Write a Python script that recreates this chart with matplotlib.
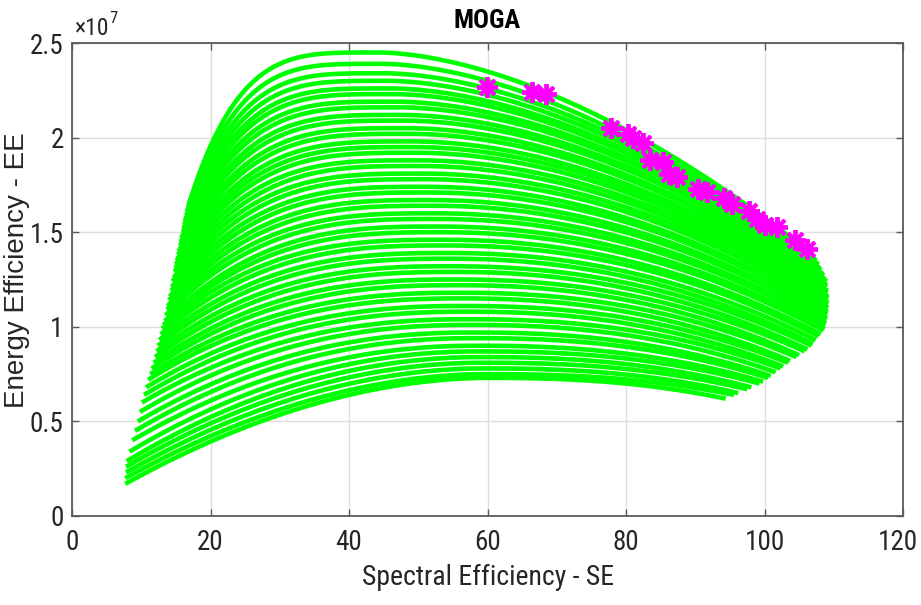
import numpy as np
import matplotlib
matplotlib.use("Agg")
import matplotlib.pyplot as plt
from matplotlib import font_manager
from matplotlib.transforms import ScaledTranslation

# ---------------- data ----------------
# key points of each green EE-SE trade-off curve (EE in units of 1e7)
start_se = [7.7, 7.7, 7.8, 7.8, 7.9, 8.3,
            8.7, 9.1, 9.5, 9.8, 10.1,
            10.4, 10.7, 11.0, 11.3, 11.5,
            11.8, 12.0, 12.2, 12.4, 12.6,
            12.8, 13.0, 13.2, 13.4, 13.5,
            13.7, 13.8, 14.0, 14.1, 14.3,
            14.4, 14.5, 14.7, 14.8, 14.9,
            15.0, 15.1, 15.3, 15.4, 15.6,
            15.7, 15.8, 16.0, 16.1, 16.2,
            16.3, 16.5, 16.6, 16.8]
start_ee = [0.17, 0.20, 0.23, 0.26, 0.29, 0.34,
            0.40, 0.45, 0.50, 0.55, 0.60,
            0.64, 0.68, 0.72, 0.75, 0.78,
            0.81, 0.84, 0.87, 0.90, 0.93,
            0.96, 0.99, 1.01, 1.03, 1.06,
            1.09, 1.11, 1.14, 1.16, 1.19,
            1.21, 1.24, 1.26, 1.29, 1.31,
            1.33, 1.35, 1.38, 1.40, 1.43,
            1.45, 1.47, 1.50, 1.52, 1.54,
            1.56, 1.59, 1.61, 1.64]
peak_se = [60.0, 59.8, 59.5, 59.3, 59.0, 58.7, 58.4, 58.1, 57.8, 57.5,
           57.2, 56.9, 56.6, 56.3, 56.0, 55.7, 55.4, 55.1, 54.8, 54.5,
           54.2, 53.9, 53.6, 53.3, 53.0, 52.7, 52.4, 52.1, 51.8, 51.5,
           51.2, 50.9, 50.6, 50.3, 50.0, 49.7, 49.4, 49.1, 48.8, 48.4,
           48.0, 47.6, 47.2, 46.8, 46.4, 46.0, 45.6, 45.2, 44.8, 44.4]
peak_ee = [0.73, 0.75, 0.78, 0.81, 0.84, 0.87, 0.90, 0.94, 0.97, 1.01,
           1.04, 1.08, 1.11, 1.15, 1.18, 1.22, 1.25, 1.29, 1.32, 1.36,
           1.39, 1.43, 1.46, 1.50, 1.53, 1.57, 1.60, 1.64, 1.67, 1.71,
           1.74, 1.78, 1.81, 1.85, 1.88, 1.92, 1.95, 1.98, 2.02, 2.05,
           2.09, 2.12, 2.16, 2.19, 2.23, 2.26, 2.30, 2.34, 2.39, 2.45]
end_se = [94.4, 95.6, 96.2, 97.5, 98.1, 99.3, 99.8, 100.5, 100.9, 101.6,
          102.3, 102.7, 103.4, 103.7, 104.6, 105.0, 105.8, 106.2, 106.8, 107.0,
          107.4, 107.8, 108.1, 108.5, 108.7, 108.8, 108.9, 109.0, 109.0, 109.1,
          109.1, 109.2, 109.2, 109.2, 109.2, 109.2, 109.1, 109.1, 109.0, 109.0,
          109.0, 108.8, 108.6, 108.4, 108.2, 108.0, 107.8, 107.5, 107.2, 107.0]
end_ee = [0.62, 0.64, 0.65, 0.67, 0.68, 0.70, 0.71, 0.73, 0.74, 0.76,
          0.78, 0.79, 0.81, 0.82, 0.84, 0.85, 0.87, 0.88, 0.90, 0.91,
          0.93, 0.95, 0.96, 0.98, 0.99, 1.01, 1.02, 1.04, 1.05, 1.07,
          1.08, 1.10, 1.12, 1.13, 1.15, 1.16, 1.18, 1.19, 1.21, 1.22,
          1.24, 1.25, 1.27, 1.28, 1.30, 1.31, 1.33, 1.35, 1.36, 1.38]

# Pareto-optimal solutions (magenta stars)
pareto_se = [59.9, 66.4, 68.4, 77.9, 80.3, 81.0, 82.5, 83.5, 85.3, 86.2, 87.3,
             90.4, 91.7, 94.1, 95.3, 97.7, 98.9, 100.1, 101.8, 104.4, 106.1]
pareto_ee = [2.27, 2.24, 2.23, 2.05, 2.02, 2.00, 1.97, 1.88, 1.87, 1.81, 1.79,
             1.73, 1.71, 1.68, 1.65, 1.61, 1.57, 1.54, 1.53, 1.46, 1.41]

x_ticks = [0, 20, 40, 60, 80, 100, 120]
y_ticks = [0, 0.5, 1, 1.5, 2, 2.5]
y_tick_labels = ["0", "0.5", "1", "1.5", "2", "2.5"]
SCALE = 1e7

# ---------------- fonts ----------------
avail = {f.name for f in font_manager.fontManager.ttflist}
def pick(cands):
    for c in cands:
        if c in avail:
            return c
    return "DejaVu Sans"
narrow = pick(["Liberation Sans Narrow", "Arial Narrow", "Nimbus Sans Narrow",
               "Roboto Condensed", "Archivo Narrow", "PT Sans Narrow",
               "Barlow Semi Condensed", "Liberation Sans"])
regular = pick(["Liberation Sans", "Arimo", "DejaVu Sans"])

TXT = "#262626"
GREEN = "#00FF00"
MAGENTA = "#FF00FF"

fig = plt.figure(figsize=(9.21, 6.05), dpi=100)
ax = fig.add_axes([72 / 921, 89 / 605, 831 / 921, 473 / 605])

# ---------------- green curves ----------------
ymin, ymax = min(peak_ee), max(peak_ee)
for x0, y0, xp, yp, x1, y1 in zip(start_se, start_ee, peak_se, peak_ee, end_se, end_ee):
    frac = (yp - ymin) / (ymax - ymin)
    k1 = 1.9 + 2.1 * frac       # shape of the rising branch
    k2 = 2.4 - 0.7 * frac       # shape of the falling branch
    xa = np.linspace(x0, xp, 90)
    s = (xa - x0) / (xp - x0)
    ya = yp - (yp - y0) * (1 - s) ** k1
    xb = np.linspace(xp, x1, 130)[1:]
    t = (xb - xp) / (x1 - xp)
    yb = yp - (yp - y1) * t ** k2
    ax.plot(np.r_[xa, xb], np.r_[ya, yb] * SCALE, color=GREEN, lw=3.3,
            solid_capstyle="butt", zorder=2)

# ---------------- pareto stars ----------------
ax.plot(pareto_se, np.array(pareto_ee) * SCALE, linestyle="none",
        marker=(8, 2, 0), markersize=15, markeredgewidth=2.8,
        color=MAGENTA, zorder=3)

# ---------------- axes styling (MATLAB look) ----------------
ax.set_xlim(0, 120)
ax.set_ylim(0, 2.5 * SCALE)
ax.set_xticks(x_ticks)
ax.set_xticklabels([str(v) for v in x_ticks])
ax.set_yticks([v * SCALE for v in y_ticks])
ax.set_yticklabels(y_tick_labels)
ax.grid(True, color="#dedede", linewidth=1.0, zorder=0)
ax.set_axisbelow(True)
for sp in ax.spines.values():
    sp.set_color("#5a5a5a")
    sp.set_linewidth(1.3)
ax.tick_params(axis="both", direction="in", length=5, width=1.0,
               color="#5a5a5a", top=True, right=True,
               labelcolor=TXT, labelsize=19.5)
ax.tick_params(axis="x", pad=9)
ax.tick_params(axis="y", pad=6)
for lab in ax.get_xticklabels() + ax.get_yticklabels():
    lab.set_fontfamily(narrow)
# last x label sits slightly inside the figure edge, as in the reference
last = ax.get_xticklabels()[-1]
last.set_transform(last.get_transform() + ScaledTranslation(-5 / 100, 0, fig.dpi_scale_trans))

ax.set_xlabel("Spectral Efficiency - SE", fontsize=20, family=narrow, color=TXT)
ax.xaxis.set_label_coords(0.5, -0.102)
ax.set_ylabel("Energy Efficiency - EE", fontsize=20, family=regular, color=TXT)
ax.yaxis.set_label_coords(-0.051, 0.52)

fig.text(487.5 / 921, 1 - 21 / 605, "MOGA", ha="center", va="center",
         fontsize=19, fontweight="bold", family=narrow, color="black")

# exponent label
fig.text(75 / 921, 1 - 35 / 605, "\u00d710", ha="left", va="baseline",
         fontsize=17, family=narrow, color=TXT)
fig.text(109 / 921, 1 - 23 / 605, "7", ha="left", va="baseline",
         fontsize=12, family=narrow, color=TXT)

fig.savefig("out.png", dpi=100, facecolor="white")
